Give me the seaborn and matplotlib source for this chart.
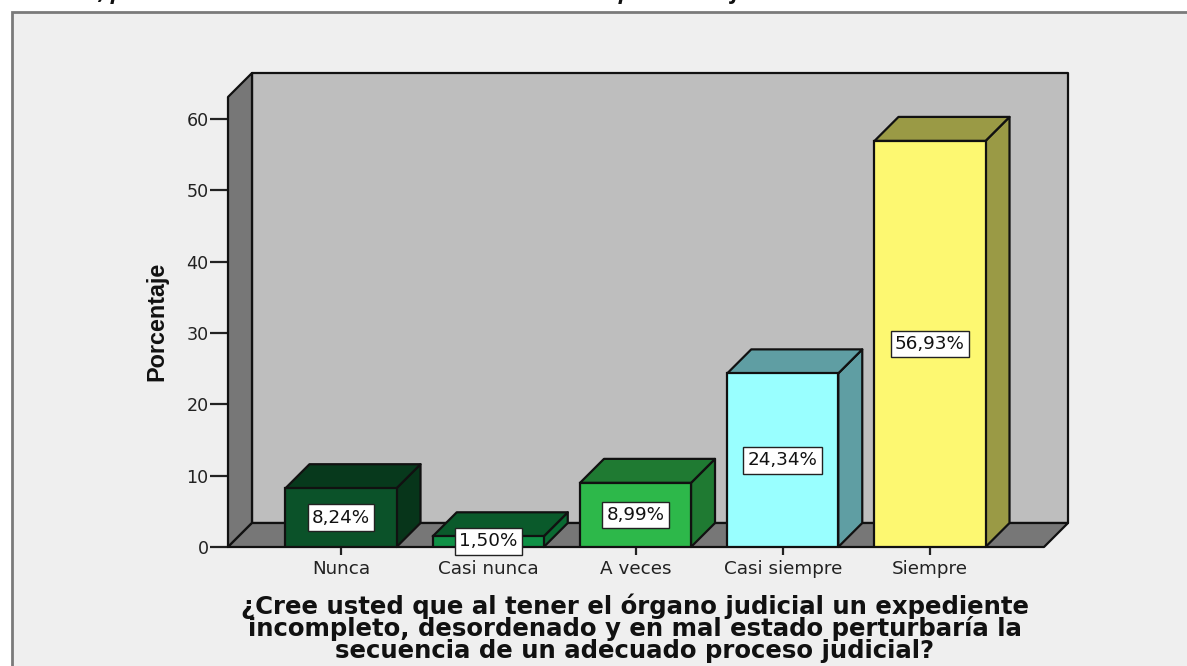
import matplotlib
matplotlib.use("Agg")
import matplotlib.pyplot as plt
from matplotlib.patches import Polygon, Rectangle
import seaborn as sns
import pandas as pd

categories = ["Nunca", "Casi nunca", "A veces", "Casi siempre", "Siempre"]
values = [8.24, 1.50, 8.99, 24.34, 56.93]
labels = ["8,24%", "1,50%", "8,99%", "24,34%", "56,93%"]
front_colors = ["#0b5229", "#0f9146", "#2db84a", "#99ffff", "#fdf871"]
top_colors = ["#07391c", "#0a5a2b", "#1f7a32", "#5f9ea3", "#9a9a45"]
side_colors = ["#07351a", "#0a6a32", "#1f7a32", "#5f9ea3", "#9a9a45"]
yticks = [0, 10, 20, 30, 40, 50, 60]
xlabel = ("¿Cree usted que al tener el órgano judicial un expediente\n"
          "incompleto, desordenado y en mal estado perturbaría la\n"
          "secuencia de un adecuado proceso judicial?")
ylabel = "Porcentaje"
top_fragments = [(101, ","), (117, "p"), (625, "p"), (735, "j")]

W, H = 1187, 666
sns.set_theme(style="white")
plt.rcParams["font.family"] = ["DejaVu Sans"]
fig = plt.figure(figsize=(W / 100, H / 100), dpi=100, facecolor="white")

# frame: runs past the right and bottom edges of the picture
fig.add_artist(Rectangle((12 / W, -0.05), 1.2, (654 + 33) / H, transform=fig.transFigure,
                         fc="#efefef", ec="#7a7a7a", lw=2, zorder=-5))

ax = fig.add_axes([228 / W, (H - 547) / H, (1044 - 228) / W, (547 - 97) / H])
ax.patch.set_alpha(0)
ax.set_zorder(2)
df = pd.DataFrame({"cat": categories, "val": values})
sns.barplot(data=df, x="cat", y="val", hue="cat", palette=front_colors, legend=False, ax=ax,
            order=categories, width=0.754, saturation=1, edgecolor="#111111", linewidth=1.6, zorder=5)

xstep = 147.25
ystep = 7.133
ax.set_xlim((228 - 341) / xstep, (1044 - 341) / xstep)
ax.set_ylim(0, 450 / ystep)
dx, dy = 24 / xstep, 24 / ystep
x0, x1 = ax.get_xlim()
y1 = ax.get_ylim()[1]

edge = dict(ec="#111111", lw=1.6, joinstyle="round", clip_on=False)
ax.add_patch(Polygon([(x0 + dx, dy), (x1 + dx, dy), (x1 + dx, y1 + dy), (x0 + dx, y1 + dy)], fc="#bebebe", zorder=1, **edge))
ax.add_patch(Polygon([(x0, 0), (x0 + dx, dy), (x0 + dx, y1 + dy), (x0, y1)], fc="#777777", zorder=2, **edge))
ax.add_patch(Polygon([(x0, 0), (x1, 0), (x1 + dx, dy), (x0 + dx, dy)], fc="#777777", zorder=2, **edge))

bars = [p for p in ax.patches if p.get_zorder() == 5][:len(values)]
for i, bar in enumerate(bars):
    l, r, h = bar.get_x(), bar.get_x() + bar.get_width(), bar.get_height()
    ax.add_patch(Polygon([(r, 0), (r + dx, dy), (r + dx, h + dy), (r, h)], fc=side_colors[i], zorder=4, **edge))
    ax.add_patch(Polygon([(l, h), (r, h), (r + dx, h + dy), (l + dx, h + dy)], fc=top_colors[i], zorder=4, **edge))
    ypos = max(h / 2, 0.8)
    ax.text((l + r) / 2, ypos, labels[i], ha="center", va="center", fontsize=13.2, color="#111111", zorder=8,
            bbox=dict(boxstyle="square,pad=0.24", fc="white", ec="#222222", lw=1), clip_on=False)

sns.despine(ax=ax, left=True, bottom=True, top=True, right=True)
ax.set_yticks(yticks)
ax.set_xticks(range(len(categories)))
ax.set_xticklabels(categories)
ax.tick_params(axis="y", length=13, width=1.6, color="#222222", labelsize=12.6, labelcolor="#222222", pad=1, left=True)
ax.tick_params(axis="x", length=6, width=1.6, color="#222222", labelsize=13.2, labelcolor="#222222", pad=3, bottom=True)
ax.set_xlabel("")
ax.set_ylabel("")

fig.text(635 / W, (H - 628) / H, xlabel, ha="center", va="center", fontsize=17.6, fontweight="bold",
         family=["DejaVu Sans"], color="#111111", linespacing=0.87)
fig.text(157 / W, (H - 321) / H, ylabel, rotation=90, ha="center", va="center", fontsize=16.8, fontweight="bold",
         family=["Liberation Sans"], color="#111111")
for px, frag in top_fragments:
    fig.text(px / W, (H + 1) / H, frag, ha="center", va="baseline", fontsize=16, style="italic", fontweight="bold",
             family=["Open Sans", "DejaVu Sans"], color="#111111")

fig.savefig("out.png", dpi=100, facecolor="white")
